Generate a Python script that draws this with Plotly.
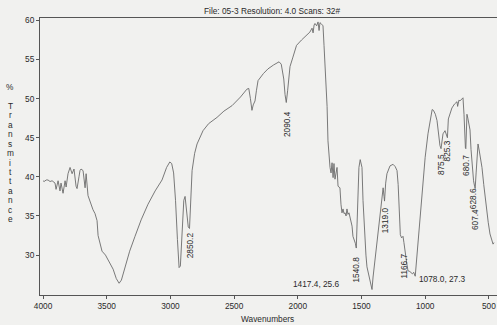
import plotly.graph_objects as go

# ---- spectrum data (wavenumber, %T) ----
wavenumber = [
    4000, 3992, 3975, 3961, 3945, 3929, 3906, 3898, 3882, 3867, 3859, 3843, 3827, 3819,
    3804, 3788, 3772, 3757, 3741, 3733, 3718, 3710, 3702, 3686, 3670, 3662, 3647, 3623,
    3608, 3592, 3576, 3568, 3555, 3537, 3510, 3498, 3470, 3450, 3425, 3403, 3385, 3356,
    3320, 3278, 3230, 3176, 3120, 3066, 3030, 3005, 2990, 2975, 2960, 2945, 2932, 2922,
    2910, 2895, 2885, 2875, 2860, 2850.2, 2840, 2830, 2810, 2791, 2744, 2700, 2634, 2580,
    2516, 2450, 2400, 2385, 2372, 2360, 2350, 2336, 2325, 2312, 2270, 2234, 2190, 2147,
    2130, 2110, 2100, 2090.4, 2080, 2070, 2061, 2040, 2010, 1970, 1928, 1905, 1888, 1880,
    1872, 1865, 1852, 1841, 1833, 1826, 1818, 1810, 1802, 1794, 1786, 1778, 1770, 1763,
    1755, 1747, 1739, 1731, 1723, 1716, 1708, 1700, 1692, 1684, 1669, 1661, 1653, 1645,
    1637, 1629, 1621, 1614, 1606, 1598, 1582, 1574, 1567, 1559, 1548, 1540.8, 1535, 1527,
    1520, 1510, 1504, 1496, 1488, 1480, 1465, 1457, 1445, 1430, 1417.4, 1409, 1395, 1370,
    1350, 1339, 1330, 1323, 1319.0, 1310, 1300, 1276, 1252, 1235, 1221, 1212, 1205, 1195,
    1185, 1174, 1166.7, 1158, 1145, 1135, 1120, 1100, 1090, 1078.0, 1066, 1056, 1040, 1017,
    1000, 978, 960, 945, 935, 920, 907, 895, 884, 875.5, 868, 860, 844, 835, 825.3, 818,
    805, 790, 770, 750, 745, 735, 727, 715, 703, 695, 690, 684, 680.7, 676, 672, 665, 655,
    648, 640, 632, 628.6, 620, 612, 607.4, 600, 592, 585, 575, 565, 554, 540, 525, 515,
    505, 491, 480, 467, 460,
]
transmittance = [
    39.5, 39.4, 39.6, 39.6, 39.4, 39.5, 39.2, 38.4, 39.5, 38.2, 39.2, 37.9, 39.5, 38.7,
    40.4, 41.2, 40.4, 41.0, 38.8, 38.5, 40.0, 40.8, 41.0, 40.8, 38.6, 40.4, 37.6, 36.3,
    35.8, 35.3, 34.4, 32.5, 31.5, 30.5, 30.0, 29.6, 28.8, 28.2, 27.0, 26.4, 26.8, 28.6,
    30.5, 32.4, 34.5, 36.5, 38.2, 39.6, 41.2, 41.9, 41.7, 40.5, 37.0, 32.0, 28.4, 28.6,
    33.0, 37.0, 37.5, 36.0, 33.6, 33.4, 37.5, 40.8, 43.0, 44.2, 45.9, 46.8, 47.6, 48.4,
    49.1, 50.2, 51.2, 51.3, 50.0, 48.5, 49.2, 49.7, 51.0, 52.3, 53.2, 53.8, 54.3, 54.7,
    54.4, 52.5, 50.5, 49.5, 51.0, 53.0, 54.1, 55.2, 56.8, 57.5, 58.1, 58.5, 59.0, 58.4,
    59.4, 59.6, 59.3, 59.8, 58.7, 59.7, 59.6, 59.4, 59.3, 56.8, 54.2, 52.9, 49.0, 44.6,
    42.5, 41.2, 40.5, 41.8, 39.9, 41.7, 39.7, 40.6, 41.2, 38.8, 38.6, 36.5, 35.4, 35.9,
    35.3, 35.4, 35.0, 35.9, 35.2, 35.4, 34.1, 33.7, 32.4, 32.1, 31.5, 30.9, 34.4, 39.1,
    41.2, 42.2, 41.9, 41.2, 37.0, 34.0, 30.0, 28.5, 27.5, 26.2, 25.6, 27.2, 29.2, 33.5,
    36.0, 37.3, 38.6, 37.5, 36.9, 39.2, 40.4, 41.4, 41.6, 41.3, 40.8, 39.0, 36.2, 32.6,
    32.2, 32.4, 31.6, 30.3, 29.0, 28.0, 27.9, 27.6, 27.8, 27.3, 29.5, 31.8, 35.0, 39.5,
    42.5, 45.5, 47.5, 48.6, 48.5, 48.0, 47.2, 45.5, 44.0, 43.6, 44.8, 45.5, 45.9, 45.5, 45.0, 47.4,
    48.2, 48.8, 49.3, 49.6, 49.0, 49.8, 49.7, 49.9, 50.1, 48.0, 45.0, 43.7, 43.6, 46.5, 48.0, 47.5, 46.5,
    46.0, 43.5, 41.5, 41.0, 39.5, 38.8, 38.5, 40.5, 43.5, 44.2, 43.3, 42.3, 41.2, 39.0, 36.8, 35.6,
    34.2, 32.7, 32.0, 31.4, 31.6,
]

# peak labels (rotated) and where their tops sit
peak_labels = ["2850.2", "2090.4", "1540.8", "1319.0", "1166.7", "875.5", "825.3", "680.7", "628.6", "607.4"]
peak_label_x = [2850.2, 2090.4, 1540.8, 1319.0, 1166.7, 875.5, 825.3, 680.7, 628.6, 607.4]
peak_label_top = [33.1, 48.7, 30.1, 36.3, 30.5, 43.1, 44.9, 43.1, 38.8, 36.1]

# horizontal point labels
point_labels = ["1417.4, 25.6", "1078.0, 27.3"]
point_label_x = [1650, 1064]
point_label_y = [26.3, 26.9]
point_label_anchor = ["right", "left"]

x_ticks = [4000, 3500, 3000, 2500, 2000, 1500, 1000, 500]
y_ticks = [30, 35, 40, 45, 50, 55, 60]

title_text = "File: 05-3 Resolution: 4.0 Scans: 32#"
x_title = "Wavenumbers"
y_title_letters = list("%") + [""] + list("Transmittance")

FONT = "Liberation Sans, Arial, sans-serif"
TXT = "#2a2a2a"
BG = "#f1f1ef"
FS = 8.3

fig = go.Figure()
fig.add_trace(go.Scatter(
    x=wavenumber, y=transmittance, mode="lines",
    line=dict(color="#6b6b6b", width=0.9), hoverinfo="skip", showlegend=False,
))

ann = []
for t, x, y in zip(peak_labels, peak_label_x, peak_label_top):
    ann.append(dict(x=x, y=y, xref="x", yref="y", text=t, showarrow=False,
                    textangle=-90, xanchor="center", yanchor="top",
                    font=dict(family=FONT, size=FS, color=TXT)))
for t, x, y, a in zip(point_labels, point_label_x, point_label_y, point_label_anchor):
    ann.append(dict(x=x, y=y, xref="x", yref="y", text=t, showarrow=False,
                    xanchor=a, yanchor="middle",
                    font=dict(family=FONT, size=FS, color=TXT)))

# title and x title
ann.append(dict(x=0.508, y=1.0, xref="paper", yref="paper", text=title_text, showarrow=False,
                xanchor="center", yanchor="bottom",
                font=dict(family=FONT, size=FS, color=TXT)))
ann.append(dict(x=0.497, y=-0.087, xref="paper", yref="paper", text=x_title, showarrow=False,
                xanchor="center", yanchor="middle",
                font=dict(family=FONT, size=FS, color=TXT)))

# stacked y title letters (pixel layout: plot top at 18, height 277, left edge at 40)
for i, ch in enumerate(y_title_letters):
    if not ch:
        continue
    py = 87 if i == 0 else 106 + (i - 2) * 9.42
    ann.append(dict(x=0, y=1 - (py - 18) / 277, xref="paper", yref="paper",
                    text=ch, showarrow=False, xanchor="center", yanchor="middle",
                    xshift=10 - 40, font=dict(family=FONT, size=FS, color=TXT)))

fig.update_layout(
    width=497, height=325,
    margin=dict(l=40, r=0, t=18, b=30),
    paper_bgcolor=BG, plot_bgcolor=BG,
    annotations=ann,
    xaxis=dict(range=[4024, 436], tickvals=x_ticks, ticktext=[str(v) for v in x_ticks],
               showgrid=False, zeroline=False, showline=True, linecolor="#555", linewidth=1,
               mirror=True, ticks="outside", ticklen=3, tickcolor="#555",
               tickfont=dict(family=FONT, size=FS, color=TXT)),
    yaxis=dict(range=[24.9, 60.3], tickvals=y_ticks, ticktext=[str(v) for v in y_ticks],
               showgrid=False, zeroline=False, showline=True, linecolor="#555", linewidth=1,
               mirror=False, ticks="outside", ticklen=3, tickcolor="#555",
               tickfont=dict(family=FONT, size=FS, color=TXT)),
)

fig.write_html("out.html", config={"displayModeBar": False},
               post_script="document.body.style.margin='0px';document.body.style.overflow='hidden';")
